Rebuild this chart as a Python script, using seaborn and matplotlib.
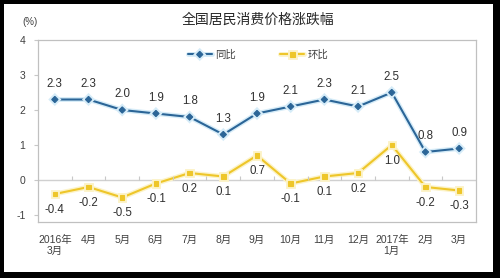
import numpy as np
import pandas as pd
import matplotlib
matplotlib.use("Agg")
import matplotlib.pyplot as plt
import matplotlib.patheffects as pe
from matplotlib.patches import Rectangle
import seaborn as sns

months = ["2016年\n3月", "4月", "5月", "6月", "7月", "8月", "9月", "10月", "11月",
          "12月", "2017年\n1月", "2月", "3月"]
yoy = [2.3, 2.3, 2.0, 1.9, 1.8, 1.3, 1.9, 2.1, 2.3, 2.1, 2.5, 0.8, 0.9]
mom = [-0.4, -0.2, -0.5, -0.1, 0.2, 0.1, 0.7, -0.1, 0.1, 0.2, 1.0, -0.2, -0.3]
series_names = ["同比", "环比"]
yticks = [-1, 0, 1, 2, 3, 4]
title = "全国居民消费价格涨跌幅"

sns.set_style("white")
plt.rcParams["font.family"] = ["Liberation Sans", "Noto Sans CJK SC"]

W, H = 500, 278
fig = plt.figure(figsize=(W / 100, H / 100), dpi=100, facecolor="black")
fig.patches.append(Rectangle((4 / W, 1 - 272 / H), (493 - 4) / W, (272 - 4) / H,
                             transform=fig.transFigure, facecolor="white",
                             edgecolor="none", zorder=-10))

ax = fig.add_axes([38 / W, 1 - 222 / H, (476 - 38) / W, (222 - 40) / H])
ax.set_zorder(2)
ax.set_facecolor("white")

df_yoy = pd.DataFrame({"month": months, "value": yoy})
df_mom = pd.DataFrame({"month": months, "value": mom})

blue = "#2B6597"
blue_glow = "#d6ecf8"
yellow = "#EEC62A"
yellow_glow = "#fcf3c8"

sns.lineplot(data=df_yoy, x="month", y="value", ax=ax, color=blue, lw=1.5,
             marker="D", markersize=3.2, markeredgewidth=0.8, markeredgecolor=blue,
             label=series_names[0], sort=False, zorder=4,
             path_effects=[pe.Stroke(linewidth=3.5, foreground=blue_glow), pe.Normal()])
sns.lineplot(data=df_mom, x="month", y="value", ax=ax, color=yellow, lw=1.5,
             marker="s", markersize=3.2, markeredgewidth=0.8, markeredgecolor=yellow,
             label=series_names[1], sort=False, zorder=4,
             path_effects=[pe.Stroke(linewidth=3.5, foreground=yellow_glow), pe.Normal()])

ax.set_xlim(-0.5, len(months) - 0.5)
ax.set_ylim(-1.2, 4.0)
ax.set_yticks(yticks)
ax.set_yticklabels([str(t) for t in yticks])
ax.set_xlabel("")
ax.set_ylabel("")

# zero line with category boundary ticks
ax.axhline(0, color="#d0d0d0", lw=1.0, zorder=1)
ax2 = ax.twiny()
ax2.set_zorder(3)
ax2.patch.set_visible(False)
ax2.set_xlim(ax.get_xlim())
for s in ["top", "left", "right", "bottom"]:
    ax2.spines[s].set_visible(False)
ax2.spines["bottom"].set_position(("data", 0))
ax2.xaxis.set_ticks_position("bottom")
ax2.set_xticks(np.arange(0.5, len(months) - 1, 1))
ax2.set_xticklabels([])
ax2.tick_params(axis="x", direction="in", length=3, color="#c8c8c8", width=0.8)

for s in ax.spines.values():
    s.set_color("#c0c0c0")
    s.set_linewidth(0.9)

ax.tick_params(axis="x", length=0, pad=9, labelsize=7.5, labelcolor="#404040")
ax.tick_params(axis="y", length=3, width=0.8, color="#c8c8c8", direction="out",
               pad=6, labelsize=7.5, labelcolor="#404040", left=True)
for lbl in ax.get_xticklabels():
    lbl.set_linespacing(1.15)

for i, v in enumerate(yoy):
    ax.annotate(f"{v:.1f}", (i, v), xytext=(0, 11.5), textcoords="offset points",
                ha="center", va="center", fontsize=8.3, color="#303030", zorder=5)
for i, v in enumerate(mom):
    ax.annotate(f"{v:.1f}", (i, v), xytext=(0, -11.5), textcoords="offset points",
                ha="center", va="center", fontsize=8.3, color="#303030", zorder=5)

leg = ax.legend(loc="center", bbox_to_anchor=(258 / W, 1 - 55 / H),
                bbox_transform=fig.transFigure, ncol=2, frameon=False,
                fontsize=7.5, handlelength=2.3, handletextpad=0.3,
                columnspacing=4.3)
for t in leg.get_texts():
    t.set_color("#404040")

fig.text(258 / W, 1 - 20 / H, title, ha="center", va="center", fontsize=10,
         color="#262626")
fig.text(30 / W, 1 - 22 / H, "(%)", ha="center", va="center", fontsize=7,
         color="#404040")

fig.savefig("out.png", dpi=100, facecolor=fig.get_facecolor())
